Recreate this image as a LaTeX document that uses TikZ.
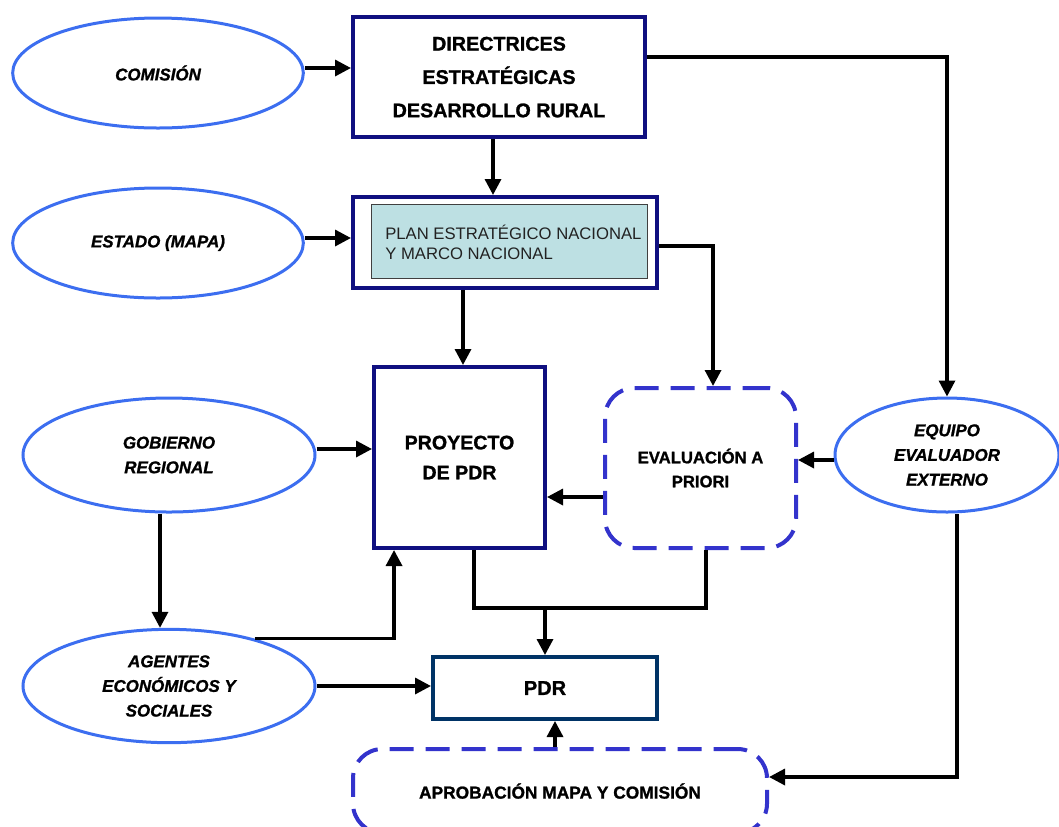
\documentclass[tikz,border=0pt]{standalone}
\usepackage{fontspec}
\setmainfont{Liberation Sans}[BoldFeatures={FakeBold=1.2},BoldItalicFeatures={FakeBold=1.2}]
\usetikzlibrary{shapes.geometric,arrows.meta,calc}
\definecolor{ellblue}{RGB}{60,110,240}
\definecolor{navy}{RGB}{16,16,128}
\definecolor{pdrblue}{RGB}{0,51,102}
\definecolor{dashblue}{RGB}{51,51,204}
\definecolor{planfill}{RGB}{189,224,227}
\definecolor{plantext}{RGB}{34,34,34}
\begin{document}
\begin{tikzpicture}[x=0.75pt,y=-0.75pt,
 ell/.style={ellipse,draw=ellblue,line width=2.25pt,inner sep=0pt,align=center,font=\fontsize{12.7}{18.5}\selectfont\bfseries\itshape},
 box/.style={rectangle,draw=navy,line width=3pt,inner sep=0pt,align=center},
 dbox/.style={rectangle,draw=dashblue,line width=3pt,dash pattern=on 18pt off 9pt,rounded corners=22pt,inner sep=0pt,align=center},
 arr/.style={line width=2.5pt,-{Triangle[length=12pt,width=12pt]}},
 ln/.style={line width=2.5pt}]
\useasboundingbox (0,0) rectangle (1059,826);
\clip (0,0) rectangle (1059,826);

% ellipses
\node[ell,minimum width=218pt,minimum height=82.5pt] (com) at (158,73) {COMISIÓN};
\node[ell,minimum width=218pt,minimum height=82.5pt] (est) at (158,243) {ESTADO (MAPA)};
\node[ell,minimum width=219pt,minimum height=85.5pt] (gob) at (169,455) {GOBIERNO\\REGIONAL};
\node[ell,minimum width=219pt,minimum height=85pt] (age) at (169,686) {AGENTES\\ECONÓMICOS Y\\SOCIALES};
\node[ell,minimum width=168pt,minimum height=85.5pt] (equ) at (947,455) {EQUIPO\\EVALUADOR\\EXTERNO};

% boxes
\node[box,minimum width=219pt,minimum height=90pt,font=\fontsize{14.8}{25}\selectfont\bfseries,text depth=-3pt] (dir) at (499,77) {DIRECTRICES\\ESTRATÉGICAS\\DESARROLLO RURAL};
\node[box,minimum width=228pt,minimum height=68.25pt] (plan) at (505,242.5) {};
\node[draw=darkgray,line width=0.75pt,fill=planfill,minimum width=207pt,minimum height=55.5pt,inner sep=0pt] (plani) at (509,241) {};
\node[anchor=west,align=left,text=plantext,font=\fontsize{12.5}{15}\selectfont,inner sep=0pt] (plant) at (385,242) {PLAN ESTRATÉGICO NACIONAL\\Y MARCO NACIONAL};
\node[box,minimum width=128.25pt,minimum height=135.75pt,font=\fontsize{14.7}{22.5}\selectfont\bfseries] (proj) at (459.5,457.5) {PROYECTO\\DE PDR};
\node[dbox,minimum width=143.25pt,minimum height=120pt,font=\fontsize{12.5}{18}\selectfont\bfseries] (eva) at (700.5,468) {EVALUACIÓN A\\PRIORI};
\node[box,draw=pdrblue,minimum width=168pt,minimum height=46.5pt,font=\fontsize{15}{18}\selectfont\bfseries] (pdr) at (545,688) {PDR};
\node[dbox,minimum width=310.5pt,minimum height=63pt,font=\fontsize{13}{16}\selectfont\bfseries] (apr) at (560,791) {APROBACIÓN MAPA Y COMISIÓN};

% connectors
\draw[arr] ([yshift=3.75pt]com.east) -- ([yshift=3.75pt]com.east -| dir.west);
\draw[arr] ([xshift=-4.5pt]dir.south) -- ([xshift=-4.5pt]dir.south |- plan.north);
\draw[arr] ([yshift=3.75pt]est.east) -- ([yshift=3.75pt]est.east -| plan.west);
\draw[arr] ([yshift=15pt]dir.east) -| (equ.north);
\draw[arr] ([yshift=-2.6pt]plan.east) -| ([xshift=9.4pt]eva.north);
\draw[arr] ([xshift=-31.5pt]plan.south) -- ([xshift=-31.5pt]plan.south |- proj.north);
\draw[arr] ([yshift=-3.75pt]equ.west) -- ([yshift=-3.75pt]equ.west -| eva.east);
\draw[arr] ([yshift=-21.75pt]eva.west) -- ([yshift=-21.75pt]eva.west -| proj.east);
\draw[arr] ([yshift=4.5pt]gob.east) -- ([yshift=4.5pt]gob.east -| proj.west);
\draw[arr] ([xshift=-6.75pt]gob.south) -- ([xshift=-6.75pt]gob.south |- age.north);
\coordinate (pj1) at ([xshift=-49.1pt]proj.south);
\draw[arr] (age.29) -| (pj1);
\draw[arr] (age.east) -- (age.east -| pdr.west);
\coordinate (jn) at (pdr.north |- 0,608);
\draw[ln] ([xshift=10.9pt]proj.south) |- (jn) -| ([xshift=4.1pt]eva.south);
\draw[arr] (jn) -- (pdr.north);
\draw[arr] ([xshift=-3.75pt]apr.north) -- ([xshift=-3.75pt]apr.north |- pdr.south);
\draw[arr] ([xshift=7.5pt]equ.south) |- ([yshift=10.5pt]apr.east);
\end{tikzpicture}
\end{document}
